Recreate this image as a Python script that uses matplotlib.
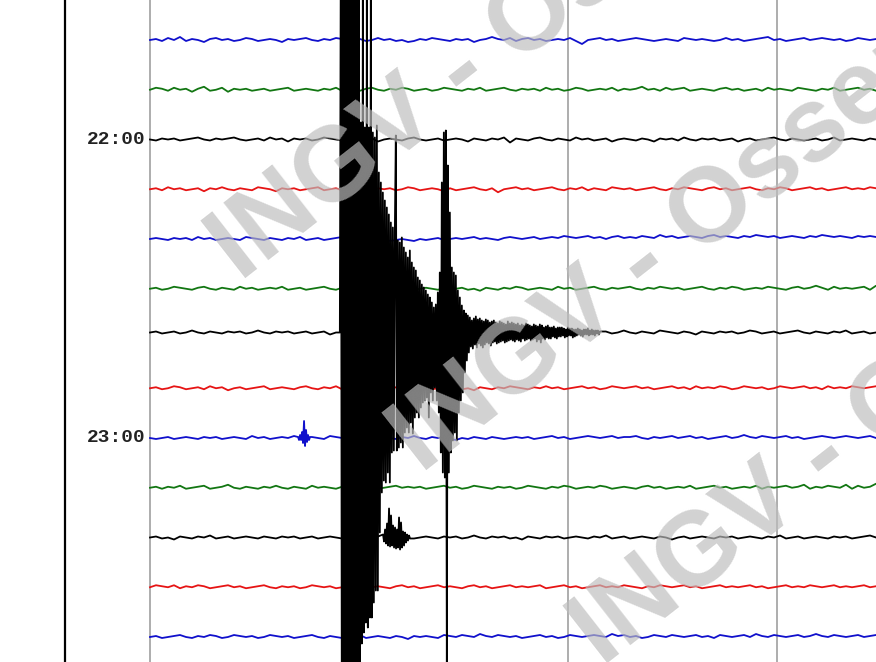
import matplotlib
matplotlib.use("Agg")
import matplotlib.pyplot as plt
import numpy as np

# ---------------- data (amplitudes in screen-pixel units, + = up) ----------------
START_HOUR, START_MIN = 21, 40          # first visible row
ROW_MINUTES = 10
TIME_LABELS = ["22:00", "23:00"]
COLORS = ["#1010cc", "#127612", "#000000", "#e61414"]   # blue, green, black, red
MINUTE_MARKS = [0, 60, 120, 180]        # seconds

PX_SEC = 60.0 / 209.0                   # seconds per pixel of trace
DT = 6 * PX_SEC                         # base sampling of noise rows
SR = PX_SEC                             # sampling of event bursts

row0 = [0,1,-1,2,0,3,-1,1,0,-2,1,2,0,1,-1,0,2,1,-1,0,1,0,-2,1,0,1,2,0,-1,1,0,2,1,-1,0,1,-1,0,2,0,1,-1,0,-2,-1,1,0,2,1,0,-1,1,0,1,-2,0,1,3,1,0,2,-1,1,2,0,1,-1,0,1,0,2,-1,-4,0,1,2,0,1,-1,0,1,2,1,0,-1,0,1,0,-1,2,1,0,1,0,-1,0,2,0,1,-1,0,1,2,3,0,1,-1,0,1,2,0,1,2,1,0,1,-1,0,2,1,0,1,-1,1,0,2,1]
row1 = [0,2,1,-1,2,0,1,-2,1,3,-1,0,2,-2,1,0,1,-1,0,1,-1,0,1,2,-1,0,1,0,-1,1,0,2,-1,1,0,-1,1,2,0,-1,1,0,2,1,-1,0,1,-1,0,2,1,0,-1,1,0,2,-1,0,1,2,0,-1,1,0,1,-1,2,0,1,-1,0,2,1,-1,0,1,0,2,-1,1,0,1,3,0,1,-1,2,0,1,2,-1,0,1,0,-1,1,2,0,1,-1,0,1,-1,2,0,1,0,-1,2,1,0,-1,1,0,2,-1,0,1,2,0,1,-1,0,2,1,0]
row2 = [0,-1,1,0,1,-1,0,1,2,0,-1,1,0,1,2,0,-1,0,1,-1,2,0,1,-2,1,0,1,-1,0,2,1,0,-1,1,0,-1,0,1,-2,0,1,0,-1,1,2,0,-1,0,1,-1,0,1,0,-2,1,0,-1,1,0,2,-3,1,0,-1,1,2,0,-1,1,0,-1,2,0,1,-1,0,1,-2,0,1,0,-1,1,0,-2,1,0,1,-1,2,0,-1,1,0,1,-1,0,1,-2,0,1,-1,0,1,2,0,-1,1,0,-1,0,1,-1,0,2,-1,0,1,0,-1,1,0,-1,1,0]
row3 = [0,1,-1,2,0,1,-1,0,1,-2,1,0,2,0,-1,1,0,-1,2,1,0,-2,1,0,1,-1,0,1,2,-1,0,1,-1,2,0,1,-1,-2,1,0,1,-1,0,2,1,-1,0,1,0,-2,1,-1,0,1,2,0,-1,1,-3,0,1,2,0,1,-1,0,1,2,0,-1,1,0,2,-1,1,0,-1,2,1,0,1,-1,0,1,2,0,-1,1,0,2,1,0,-1,1,2,0,1,-1,0,1,2,0,-1,1,0,2,1,-1,0,1,2,0,1,-1,0,1,2,0,1,0,2,1,-1,1]
row4 = [0,1,0,-1,1,0,1,-1,2,0,1,-1,0,1,0,-1,2,1,0,-1,1,0,-1,1,0,2,-1,0,1,-1,0,1,2,0,-1,0,-1,-2,-1,0,-2,-1,0,-1,-2,0,-1,0,1,-1,0,1,0,1,2,0,1,0,-1,1,2,1,0,1,2,0,1,2,1,3,2,1,2,3,1,2,0,2,3,1,2,1,3,2,1,4,2,3,1,2,3,2,1,3,4,2,3,2,1,3,2,4,3,2,3,1,2,3,2,1,3,2,4,3,2,3,2,1,3,2,3,2,1,3,2,2]
row5 = [0,1,-1,0,2,1,0,-1,1,2,0,-1,1,0,-1,2,0,1,-1,0,1,0,2,-1,0,1,-1,0,1,2,0,-1,1,0,1,-1,0,2,1,0,-1,1,0,2,-1,0,1,0,-1,1,2,0,1,-1,0,-2,1,0,-1,1,0,2,1,-1,0,1,0,-1,2,0,1,-1,0,1,2,0,-1,1,0,1,2,0,-1,1,0,2,1,0,1,-1,0,1,2,0,-1,1,0,2,1,-1,0,1,0,2,1,0,-1,1,2,0,1,3,1,-1,2,0,1,0,1,2,-1,3,1]
row7 = [0,1,-1,0,2,1,-1,0,1,-1,2,0,1,-2,0,1,-1,0,1,2,-1,0,1,0,-1,1,2,0,-1,1,0,2,-1,0,1,-1,0,2,1,0,-1,1,0,-1,2,0,1,-1,0,1,0,2,-1,0,-2,1,0,-1,1,0,2,1,0,-1,1,0,2,0,1,-1,0,1,2,0,1,-1,0,2,1,0,1,2,0,1,-1,0,1,2,0,1,-1,2,0,1,0,2,1,-1,0,2,1,0,1,-1,0,2,1,0,1,2,0,1,-1,2,0,1,0,2,1,0,1,2,0,1]
row8 = [0,-1,0,1,-1,0,1,0,-1,1,0,1,-1,0,1,0,-1,2,0,1,-1,0,1,0,2,-1,0,1,0,-1,2,1,0,1,-1,0,1,0,-1,1,0,-1,1,0,2,0,-1,1,0,1,-1,-2,0,-1,1,0,-1,1,0,-1,0,1,0,1,-1,0,1,2,0,1,-1,0,1,2,1,0,1,2,0,1,1,2,0,-1,1,0,1,2,0,1,2,0,1,-1,0,1,2,0,1,3,1,0,2,1,0,1,2,0,1,-1,0,1,2,1,0,1,2,1,0,1,2,0,1,2,0]
row9 = [0,1,-1,1,0,2,-1,0,1,2,-1,0,1,3,0,-1,1,0,-1,1,0,2,0,-1,1,0,-1,2,0,1,0,-1,1,0,2,-1,0,1,-1,0,1,2,0,1,0,1,-1,0,1,2,0,1,-1,0,2,1,0,-1,1,0,1,-1,0,2,1,0,-1,1,0,2,1,-1,0,1,0,2,1,-1,0,1,0,-1,1,2,0,1,-1,0,1,0,2,-1,0,1,2,0,1,-1,0,1,0,2,-1,1,0,1,2,0,1,3,-1,1,0,2,1,0,3,-1,2,0,1,4,0,2]
row10 = [0,1,-1,0,-2,1,0,-1,1,0,2,-1,0,1,-1,0,1,0,-1,1,0,-1,1,0,1,-1,0,1,-1,0,1,0,-1,1,0,1,-1,0,1,0,-1,1,0,1,-1,0,1,0,-1,1,0,1,-1,0,2,0,-1,1,0,1,-1,0,-2,1,0,-1,1,0,1,-1,0,1,0,-1,1,0,2,-1,0,1,-1,0,1,0,-1,1,0,-2,0,1,-1,0,1,0,-1,1,0,1,-1,0,1,0,-1,1,0,2,-1,0,1,-1,0,1,0,-1,1,0,1,-1,0,1,2,0,1,0,1,-1,0]
row11 = [0,2,1,0,2,-1,1,0,2,1,-1,0,1,2,0,1,-1,0,1,2,0,-1,1,0,1,-1,0,2,1,0,1,-1,0,1,0,2,-1,0,1,0,-1,1,2,0,1,-1,0,1,2,0,1,0,-1,1,2,0,1,-1,0,1,2,0,1,0,1,2,-1,0,1,2,0,1,-1,0,1,2,0,1,0,2,1,0,-1,1,0,2,1,0,1,2,0,1,-1,0,1,2,0,1,0,1,2,0,1,-1,0,1,2,0,1,0,2,1,0,1,2,0,1,0,1,2,0,1,2,0,1,1]
row12 = [0,1,-1,0,1,2,0,-1,1,0,2,1,-1,0,2,1,0,1,-1,0,2,1,0,1,-1,0,1,2,0,-1,1,0,-1,1,0,2,-1,0,1,0,-1,1,0,-2,1,0,1,0,-1,2,1,0,2,1,0,3,1,0,2,1,0,1,-1,0,1,2,0,1,-1,0,2,1,0,1,2,1,0,3,1,2,0,1,-1,0,2,1,0,2,1,0,1,2,0,1,-1,2,1,0,1,2,0,3,1,0,2,1,0,1,2,0,1,3,1,0,2,1,0,1,2,0,1,2,0,2,1]

# earthquake row (row 6): noise before onset, burst (1 px sampling), noise after
eq_pre = [0,1,-1,0,1,-1,0,2,0,-1,1,0,-1,1,0,1,-1,0,2,0,-1,1,0,1,-1,0,1,-1,0,1,-2,0,1]
eq_onset = 54.5   # s
eq_burst = [0,400,-400,400,-400,400,-400,400,-400,400,-400,400,-400,400,-400,400,-400,400,
            -400,340,-400,210,-311,340,-300,205,-290,340,-295,205,-285,340,-285,200,-270,195,-258,207,-258,
            160,-200,150,-160,140,-148,132,-150,125,-140,118,-150,110,-120,105,-118,100,197,-118,
            92,-115,90,-110,95,-115,85,-100,80,-95,75,-100,82,-90,70,-101,65,-85,62,-80,55,-85,52,-75,
            48,-70,45,-68,42,-65,38,-85,35,-60,30,-68,25,-55,28,-68,40,-80,60,-120,150,-140,200,-145,
            202,-340,167,-140,120,-120,65,-108,60,-100,57,-108,42,-80,35,-68,27,-60,22,-40,19,-28,17,-20,
            15,-14,12,-16,14,-12,16,-15,13,-11,14,-13,12,-15,11,-12,13,-10,12,-11,10,-13,11,-10,12,-9,10,-11,9,-10,11,
            -9,10,-8,9,-10,8,-9,11,-8,9,-7,10,-8,9,-9,8,-7,9,-8,7,-9,8,-6,7,-8,9,-7,8,-6,7,
            -8,6,-7,8,-6,7,-9,6,-7,8,-10,7,-6,5,-7,6,-5,7,-6,5,-6,5,-4,6,-5,4,-6,5,-4,5,
            -4,5,-3,4,-5,3,-4,5,-3,4,-3,4,-5,3,-4,3,-3,4,-2,3,-3,2,-4,3,-2,3,-2,4,-3,2,-2,3,-2,2,-3,2,-1,2,-2,1]
eq_post = [1,-1,0,2,0,-1,1,0,-1,2,1,0,-1,1,0,-2,1,0,-1,1,0,1,-1,0,2,1,-1,0,1,-1,0,1,2,0,-1,1,0,-1,1,0,2,-1,0,1,-1,0,2,1,0,-1,1,0]

# small events on other rows: (row, onset seconds, samples at SR)
blip_row8 = (8, 42.5, [1,-2,3,-2,6,-5,17,-8,8,-4,3,-2,1])
aftershock_row10 = (10, 66.9, [3,-4,8,-6,14,-8,29,-9,22,-8,12,-10,10,-11,8,-10,20,-12,15,-10,6,-8,5,-5,3,-3,2,-1])

TRACE_DC = [0, 0, 0, 0, 0, 0, 6, 0, 0, 0, 0, 0, 0]   # baseline offsets (px)

noise_rows = {0: row0, 1: row1, 2: row2, 3: row3, 4: row4, 5: row5,
              7: row7, 8: row8, 9: row9, 10: row10, 11: row11, 12: row12}
bursts = [blip_row8, aftershock_row10]

WM_TEXT = "INGV - Osservatorio Etneo"

# ---------------- figure ----------------
W, H = 876, 662
ROW_PX = 49.75
TOP_PX = 40          # row 0 baseline from top
LEFT_PX = 150        # trace start from left
fig = plt.figure(figsize=(W / 100, H / 100), dpi=100)
ax = fig.add_axes([0, 0, 1, 1])
ax.set_xlim(-LEFT_PX * PX_SEC, (W - LEFT_PX) * PX_SEC)
ax.set_ylim(-(H - TOP_PX) / ROW_PX, TOP_PX / ROW_PX)
ax.axis("off")

# minute lines and frame line
for m in MINUTE_MARKS:
    ax.axvline(m, color="#a0a0a0", lw=1.2, zorder=1)
ax.axvline(-85 * PX_SEC, color="black", lw=1.6, zorder=1)


def merge(base, burst_t0, burst):
    tb = np.arange(len(base)) * DT
    vb = np.asarray(base, float)
    te = burst_t0 + np.arange(len(burst)) * SR
    keep_l = tb < burst_t0
    keep_r = tb > te[-1]
    t = np.concatenate([tb[keep_l], te, tb[keep_r]])
    v = np.concatenate([vb[keep_l], np.asarray(burst, float), vb[keep_r]])
    return t, v


for k, vals in noise_rows.items():
    t = np.arange(len(vals)) * DT
    v = np.asarray(vals, float)
    for (r, t0, seg) in bursts:
        if r == k:
            t, v = merge(vals, t0, seg)
    y = -k + (v + TRACE_DC[k]) / ROW_PX
    ax.plot(t, y, color=COLORS[k % 4], lw=1.3, zorder=2 + k * 0.01)

# earthquake row
k = 6
t_pre = np.arange(len(eq_pre)) * DT
t_pre = t_pre[t_pre < eq_onset]
t_b = eq_onset + np.arange(len(eq_burst)) * SR
t_post = t_b[-1] + DT + np.arange(len(eq_post)) * DT
t = np.concatenate([t_pre, t_b, t_post])
v = np.concatenate([np.asarray(eq_pre[:len(t_pre)], float), np.asarray(eq_burst, float),
                    np.asarray(eq_post, float)])
ax.plot(t, -k + (v + TRACE_DC[k]) / ROW_PX, color=COLORS[k % 4], lw=1.3, zorder=5)

# time labels
for lab in TIME_LABELS:
    hh, mm = map(int, lab.split(":"))
    row = ((hh * 60 + mm) - (START_HOUR * 60 + START_MIN)) // ROW_MINUTES
    ax.text(-4 * PX_SEC, -row, lab, ha="right", va="center", fontsize=14,
            family="Liberation Mono", weight="bold", color="#222222", zorder=6)

# watermark (three diagonal repeats)
for (px, py) in [(240, 282), (421, 474), (602, 667)]:
    fig.text(px / W, 1 - py / H, WM_TEXT, rotation=38, rotation_mode="anchor",
             ha="left", va="baseline", fontsize=76, weight="bold",
             family="Liberation Sans", color=(0.74, 0.74, 0.74), alpha=0.68, zorder=10)

fig.savefig("out.png", dpi=100)
